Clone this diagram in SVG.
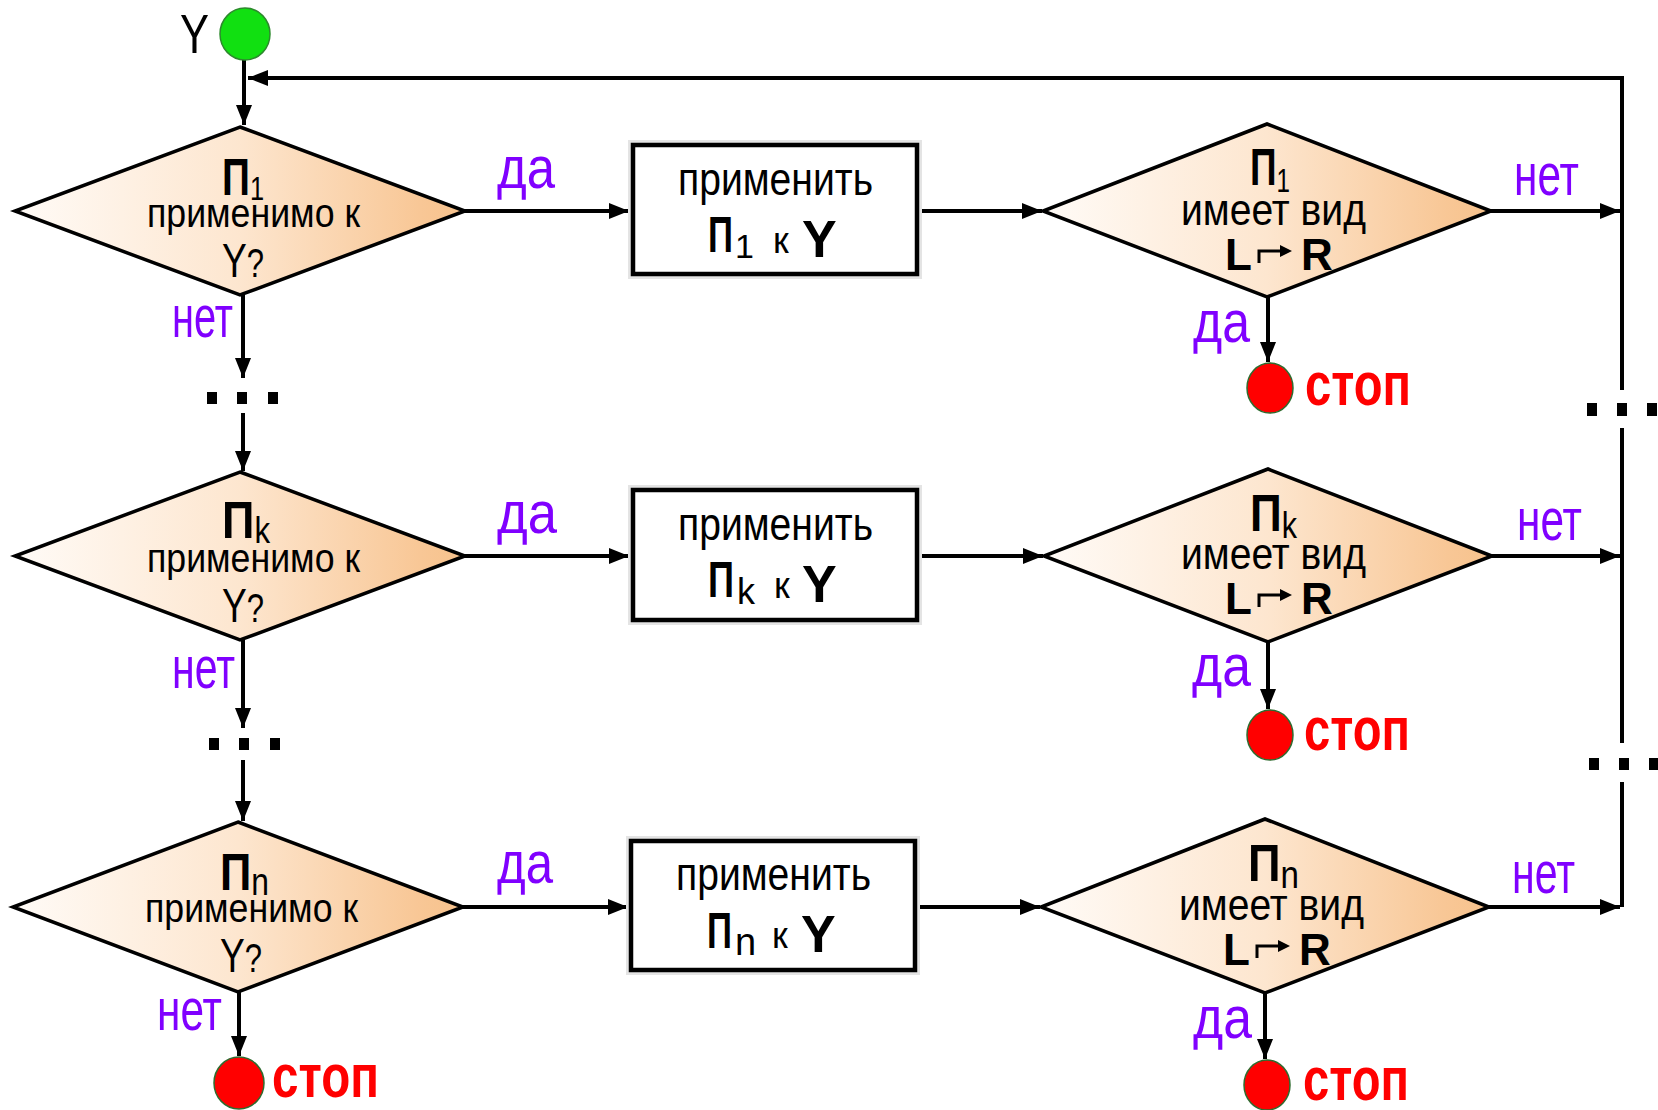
<svg xmlns="http://www.w3.org/2000/svg" width="1658" height="1110" viewBox="0 0 1658 1110">
  <defs>
    <linearGradient id="peach" x1="0" y1="0" x2="1" y2="0">
      <stop offset="0" stop-color="#fffbf7"/>
      <stop offset="0.5" stop-color="#fde6cf"/>
      <stop offset="0.9" stop-color="#f8c796"/>
      <stop offset="1" stop-color="#f7c28c"/>
    </linearGradient>
    <marker id="arr" markerUnits="userSpaceOnUse" viewBox="0 0 20 16" markerWidth="20" markerHeight="16" refX="20" refY="8" orient="auto">
      <path d="M0,0 L20,8 L0,16 z" fill="#000"/>
    </marker>
  </defs>
  <style>
    text { font-family: "Liberation Sans", Arial, sans-serif; fill: #000; }
    .dia { fill: url(#peach); stroke: #000; stroke-width: 3.5; stroke-linejoin: miter; }
    .box { fill: #fff; stroke: #000; stroke-width: 4.5; }
    .halo { fill: none; stroke: #e4e4e4; stroke-width: 10; }
    .ln { fill: none; stroke: #000; stroke-width: 4; }
    .ar { marker-end: url(#arr); }
    .dot { fill: #000; }
    .lbl { fill: #8000ff; font-size: 60px; }
    .stop { fill: #ff0000; font-size: 62px; font-weight: bold; }
    .big { font-weight: bold; }
    .sub { font-weight: normal; }
    .start { fill: #11e011; stroke: #2d8a2d; stroke-width: 1.5; }
    .end { fill: #ff0000; stroke: #2f6b2f; stroke-width: 1.5; }
  </style>

  <rect width="1658" height="1110" fill="#fff"/>

  <!-- connectors -->
  <g id="connectors">
    <path class="ln ar" d="M244,60 V125"/>
    <path class="ln ar" d="M1622,390 V78 H248"/>
    <path class="ln" d="M1622,428 V743"/>
    <path class="ln" d="M1622,782 V907"/>

    <path class="ln ar" d="M243,295 V378"/>
    <path class="ln ar" d="M243,413 V471"/>
    <path class="ln ar" d="M243,640 V728"/>
    <path class="ln ar" d="M243,760 V821"/>
    <path class="ln ar" d="M239,992 V1056"/>

    <path class="ln ar" d="M465,211 H629"/>
    <path class="ln ar" d="M917,211 H1042"/>
    <path class="ln ar" d="M1491,211 H1620"/>
    <path class="ln ar" d="M465,556 H629"/>
    <path class="ln ar" d="M917,556 H1043"/>
    <path class="ln ar" d="M1492,556 H1620"/>
    <path class="ln ar" d="M463,907 H628"/>
    <path class="ln ar" d="M915,907 H1040"/>
    <path class="ln ar" d="M1489,907 H1620"/>

    <path class="ln ar" d="M1268,297 V362"/>
    <path class="ln ar" d="M1268,642 V709"/>
    <path class="ln ar" d="M1265,993 V1059"/>

    <!-- ellipsis breaks -->
    <rect class="dot" x="207" y="392" width="10" height="12"/>
    <rect class="dot" x="237" y="392" width="10" height="12"/>
    <rect class="dot" x="268" y="392" width="10" height="12"/>
    <rect class="dot" x="209" y="738" width="10" height="12"/>
    <rect class="dot" x="239" y="738" width="10" height="12"/>
    <rect class="dot" x="270" y="738" width="10" height="12"/>
    <rect class="dot" x="1587" y="403" width="10" height="13"/>
    <rect class="dot" x="1617" y="403" width="10" height="13"/>
    <rect class="dot" x="1647" y="403" width="10" height="13"/>
    <rect class="dot" x="1589" y="758" width="10" height="12"/>
    <rect class="dot" x="1619" y="758" width="10" height="12"/>
    <rect class="dot" x="1649" y="758" width="10" height="12"/>
  </g>

  <!-- start -->
  <g id="start">
    <ellipse class="start" cx="245" cy="34" rx="25" ry="26"/>
    <text x="180" y="53" font-size="56" textLength="29" lengthAdjust="spacingAndGlyphs">Y</text>
  </g>

  <!-- row 1 -->
  <g id="cond1">
    <polygon class="dia" points="240,127 465,211 240,295 15,211"/>
    <text class="big" x="222" y="195" font-size="52" textLength="42" lengthAdjust="spacingAndGlyphs">П<tspan class="sub" font-size="34" dy="5">1</tspan></text>
    <text x="147" y="227" font-size="41" textLength="213" lengthAdjust="spacingAndGlyphs">применимо к</text>
    <text x="222" y="277" font-size="48" textLength="42" lengthAdjust="spacingAndGlyphs">Y<tspan font-size="40">?</tspan></text>
  </g>
  <g id="apply1">
    <rect class="halo" x="633" y="145" width="284" height="129"/>
    <rect class="box" x="633" y="145" width="284" height="129"/>
    <text x="678" y="195" font-size="46" textLength="195" lengthAdjust="spacingAndGlyphs">применить</text>
    <text class="big" x="708" y="252" font-size="50" textLength="25" lengthAdjust="spacingAndGlyphs">П</text>
    <text x="735" y="258" font-size="34">1<tspan x="773" dy="-5" font-size="36">к</tspan><tspan class="big" x="802" dy="4" font-size="52">Y</tspan></text>
  </g>
  <g id="final1">
    <polygon class="dia" points="1267,124 1491,211 1267,297 1043,211"/>
    <text class="big" x="1250" y="185" font-size="52" textLength="40" lengthAdjust="spacingAndGlyphs">П<tspan class="sub" font-size="34" dy="7">1</tspan></text>
    <text x="1181" y="225" font-size="44" textLength="185" lengthAdjust="spacingAndGlyphs">имеет вид</text>
    <text class="big" x="1225" y="270" font-size="44">L<tspan x="1301">R</tspan></text>
    <path class="ln" style="stroke-width:3" d="M1259,263 V251 H1282"/>
    <polygon points="1280,245 1292,251 1280,257" fill="#000"/>
  </g>
  <g id="stop1">
    <ellipse class="end" cx="1270" cy="388" rx="23" ry="25"/>
    <text class="stop" x="1305" y="405" textLength="106" lengthAdjust="spacingAndGlyphs">стоп</text>
  </g>

  <!-- row k -->
  <g id="condk">
    <polygon class="dia" points="240,472 465,556 240,640 15,556"/>
    <text class="big" x="222" y="538" font-size="52" textLength="48" lengthAdjust="spacingAndGlyphs">П<tspan class="sub" font-size="36" dy="5">k</tspan></text>
    <text x="147" y="572" font-size="41" textLength="213" lengthAdjust="spacingAndGlyphs">применимо к</text>
    <text x="222" y="622" font-size="48" textLength="42" lengthAdjust="spacingAndGlyphs">Y<tspan font-size="40">?</tspan></text>
  </g>
  <g id="applyk">
    <rect class="halo" x="633" y="490" width="284" height="130"/>
    <rect class="box" x="633" y="490" width="284" height="130"/>
    <text x="678" y="540" font-size="46" textLength="195" lengthAdjust="spacingAndGlyphs">применить</text>
    <text class="big" x="708" y="597" font-size="50" textLength="26" lengthAdjust="spacingAndGlyphs">П</text>
    <text x="737" y="604" font-size="36">k<tspan x="774" dy="-6" font-size="36">к</tspan><tspan class="big" x="802" dy="4" font-size="52">Y</tspan></text>
  </g>
  <g id="finalk">
    <polygon class="dia" points="1268,469 1492,556 1268,642 1044,556"/>
    <text class="big" x="1250" y="531" font-size="52" textLength="47" lengthAdjust="spacingAndGlyphs">П<tspan class="sub" font-size="36" dy="7">k</tspan></text>
    <text x="1181" y="569" font-size="44" textLength="185" lengthAdjust="spacingAndGlyphs">имеет вид</text>
    <text class="big" x="1225" y="614" font-size="44">L<tspan x="1301">R</tspan></text>
    <path class="ln" style="stroke-width:3" d="M1259,607 V595 H1282"/>
    <polygon points="1280,589 1292,595 1280,601" fill="#000"/>
  </g>
  <g id="stopk">
    <ellipse class="end" cx="1270" cy="735" rx="23" ry="25"/>
    <text class="stop" x="1304" y="750" textLength="106" lengthAdjust="spacingAndGlyphs">стоп</text>
  </g>

  <!-- row n -->
  <g id="condn">
    <polygon class="dia" points="238,822 463,907 238,992 13,907"/>
    <text class="big" x="220" y="890" font-size="52" textLength="49" lengthAdjust="spacingAndGlyphs">П<tspan class="sub" font-size="38" dy="5">n</tspan></text>
    <text x="145" y="922" font-size="41" textLength="213" lengthAdjust="spacingAndGlyphs">применимо к</text>
    <text x="220" y="972" font-size="48" textLength="42" lengthAdjust="spacingAndGlyphs">Y<tspan font-size="40">?</tspan></text>
  </g>
  <g id="applyn">
    <rect class="halo" x="631" y="841" width="284" height="129"/>
    <rect class="box" x="631" y="841" width="284" height="129"/>
    <text x="676" y="890" font-size="46" textLength="195" lengthAdjust="spacingAndGlyphs">применить</text>
    <text class="big" x="707" y="948" font-size="50" textLength="25" lengthAdjust="spacingAndGlyphs">П</text>
    <text x="735" y="955" font-size="38">n<tspan x="772" dy="-7" font-size="36">к</tspan><tspan class="big" x="801" dy="4" font-size="52">Y</tspan></text>
  </g>
  <g id="finaln">
    <polygon class="dia" points="1265,819 1489,907 1265,993 1041,907"/>
    <text class="big" x="1248" y="881" font-size="52" textLength="51" lengthAdjust="spacingAndGlyphs">П<tspan class="sub" font-size="38" dy="7">n</tspan></text>
    <text x="1179" y="920" font-size="44" textLength="185" lengthAdjust="spacingAndGlyphs">имеет вид</text>
    <text class="big" x="1223" y="965" font-size="44">L<tspan x="1299">R</tspan></text>
    <path class="ln" style="stroke-width:3" d="M1257,958 V946 H1280"/>
    <polygon points="1278,940 1290,946 1278,952" fill="#000"/>
  </g>
  <g id="stopn">
    <ellipse class="end" cx="1267" cy="1085" rx="23" ry="25"/>
    <text class="stop" x="1303" y="1100" textLength="106" lengthAdjust="spacingAndGlyphs">стоп</text>
  </g>
  <g id="stopleft">
    <ellipse class="end" cx="239" cy="1083" rx="25" ry="26"/>
    <text class="stop" x="272" y="1097" textLength="107" lengthAdjust="spacingAndGlyphs">стоп</text>
  </g>

  <!-- branch labels -->
  <g id="labels">
    <text class="lbl" x="497" y="188" textLength="58" lengthAdjust="spacingAndGlyphs">да</text>
    <text class="lbl" x="172" y="337" textLength="61" lengthAdjust="spacingAndGlyphs">нет</text>
    <text class="lbl" x="1514" y="195" textLength="65" lengthAdjust="spacingAndGlyphs">нет</text>
    <text class="lbl" x="1193" y="342" textLength="57" lengthAdjust="spacingAndGlyphs">да</text>

    <text class="lbl" x="497" y="533" textLength="60" lengthAdjust="spacingAndGlyphs">да</text>
    <text class="lbl" x="172" y="688" textLength="63" lengthAdjust="spacingAndGlyphs">нет</text>
    <text class="lbl" x="1517" y="540" textLength="65" lengthAdjust="spacingAndGlyphs">нет</text>
    <text class="lbl" x="1192" y="686" textLength="59" lengthAdjust="spacingAndGlyphs">да</text>

    <text class="lbl" x="497" y="883" textLength="56" lengthAdjust="spacingAndGlyphs">да</text>
    <text class="lbl" x="157" y="1030" textLength="65" lengthAdjust="spacingAndGlyphs">нет</text>
    <text class="lbl" x="1512" y="893" textLength="63" lengthAdjust="spacingAndGlyphs">нет</text>
    <text class="lbl" x="1193" y="1038" textLength="59" lengthAdjust="spacingAndGlyphs">да</text>
  </g>
</svg>
